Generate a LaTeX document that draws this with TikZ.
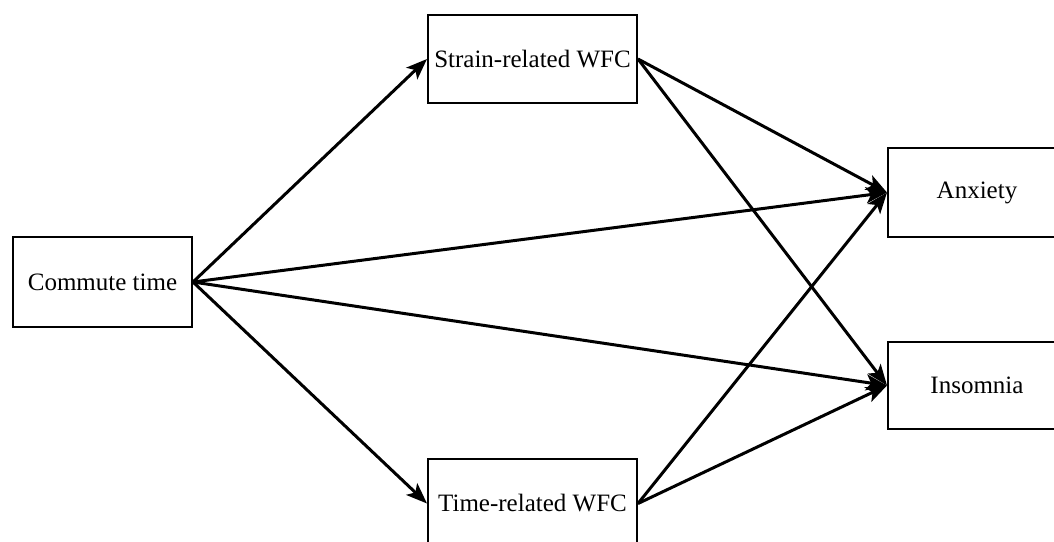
\documentclass[tikz,border=0pt]{standalone}
\usepackage{fontspec}
\setmainfont{Liberation Serif}
\usetikzlibrary{arrows.meta}
\begin{document}
\begin{tikzpicture}[x=1pt,y=-1pt,
  boxnode/.style={draw, line width=2pt, inner sep=0pt, font=\fontsize{25}{30}\selectfont},
  conn/.style={line width=3pt, -{Stealth[length=21pt,width=16pt,inset=5pt]}}]
\useasboundingbox (0,0) rectangle (1054,541);
\clip (0,0) rectangle (1054,541);
\fill[white] (0,0) rectangle (1054,541);
\node[boxnode, minimum width=179pt, minimum height=90pt] (ct) at (102.5,282) {Commute time};
\node[boxnode, minimum width=209pt, minimum height=88pt] (sw) at (532.5,59) {Strain-related WFC};
\node[boxnode, minimum width=209pt, minimum height=89pt] (tw) at (532.5,503.5) {Time-related WFC};
\node[boxnode, minimum width=178pt, minimum height=89pt] (ax) at (977,192.5) {Anxiety};
\node[boxnode, minimum width=178pt, minimum height=87pt] (in) at (977,385.5) {Insomnia};
\draw[conn] (ct.east) -- (sw.west);
\draw[conn] (ct.east) -- (tw.west);
\draw[conn] (ct.east) -- (ax.west);
\draw[conn] (ct.east) -- (in.west);
\draw[conn] (sw.east) -- (ax.west);
\draw[conn] (sw.east) -- (in.west);
\draw[conn] (tw.east) -- (ax.west);
\draw[conn] (tw.east) -- (in.west);
\end{tikzpicture}
\end{document}
